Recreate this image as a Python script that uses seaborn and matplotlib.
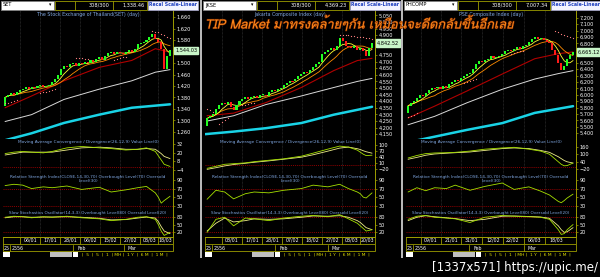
import numpy as np
import pandas as pd
import matplotlib
matplotlib.use("Agg")
import matplotlib.pyplot as plt
import seaborn as sns
from matplotlib.patches import Rectangle
from matplotlib import font_manager as fm
from matplotlib.ft2font import FT2Font
import matplotlib.patheffects as pe

sns.set_theme(style="dark")
plt.rcParams['font.family'] = ['DejaVu Sans']

# ---------------- data ----------------
symbols = ["SET", "JKSE", "PHCOMP"]
titles = ["The Stock Exchange of Thailand(SET) (day)", "Jakarta Composite Index (day)",
          "PSE Composite Index (day)"]
counters = ["308/300", "308/300", "308/300"]
top_values = ["1,338.46", "4,369.23", "7,007.34"]
last_labels = ["1,544.03", "4,842.52", "6,665.12"]
headline = "TIP Market มาทรงคล้ายๆกัน เหมือนจะดีดกลับขึ้นอีกเลย"
watermark = "[1337x571] https://upic.me/"

set_close = [1380, 1390, 1395, 1388, 1400, 1405,
             1410, 1415, 1408, 1418, 1412, 1420, 1425, 1415, 1420, 1425,
             1435, 1445, 1460, 1480,
             1490, 1485, 1495, 1500,
             1490, 1500, 1495, 1505, 1500,
             1510, 1505, 1515, 1520, 1512, 1525,
             1535, 1540, 1530, 1538, 1535,
             1530, 1540, 1545, 1538, 1550,
             1565, 1570, 1575, 1580, 1590,
             1600, 1585, 1575,
             1550, 1480, 1525, 1544.03]
jkse_close = [4270, 4290, 4300,
              4340, 4370, 4390, 4380, 4395,
              4360, 4335, 4370,
              4400, 4420, 4430, 4415,
              4430, 4440, 4425, 4445, 4450, 4440,
              4470, 4485, 4480, 4495, 4500, 4520,
              4540, 4555, 4550, 4565,
              4590, 4610, 4620, 4615, 4640,
              4660, 4680, 4700,
              4760, 4775, 4790,
              4800, 4790, 4815,
              4880, 4860, 4820,
              4810, 4800, 4815, 4790, 4800,
              4780, 4740, 4800, 4842.52]
pse_close = [5830, 5870, 5900,
             5950, 6000, 5980, 6030,
             6080, 6110, 6100,
             6120, 6090, 6130, 6110,
             6170, 6200, 6230, 6220,
             6260, 6300, 6320, 6340,
             6400, 6480, 6530, 6510, 6540,
             6560, 6600, 6570, 6590, 6610,
             6640, 6680, 6700, 6690,
             6720, 6740, 6720, 6760, 6780,
             6820, 6870, 6900, 6870, 6880,
             6850, 6830, 6800,
             6700, 6620, 6500,
             6380,
             6450, 6550, 6620, 6665.12]

ma_idx = [0, 9, 20, 32, 43, 51, 56]
set_red = [1344, 1385, 1438, 1485, 1509, 1550, 1538]
set_white = [1296, 1320, 1373, 1409, 1438, 1468, 1477]
jkse_red = [4290, 4310, 4390, 4504, 4632, 4708, 4725]
jkse_white = [4250, 4290, 4375, 4440, 4504, 4550, 4573]
pse_red = [5638, 5822, 6059, 6324, 6562, 6641, 6668]
pse_white = [5532, 5663, 5875, 6086, 6245, 6330, 6376]

cyan_idx = [-1, 9, 20, 32, 43, 56]
set_cyan = [1228, 1255, 1291, 1320, 1344, 1356]
jkse_cyan = [4150, 4170, 4196, 4235, 4298, 4358]
pse_cyan = [5250, 5346, 5452, 5558, 5717, 5822]

set_sar_idx = [0, 1, 2, 3, 4, 12, 13, 14, 15, 16, 17, 24, 25, 26, 27, 28,
               37, 38, 39, 40, 41, 50, 51, 52, 53, 54, 55, 56]
set_sar = [1360, 1362, 1365, 1368, 1372, 1395, 1398, 1400, 1403, 1406, 1410,
           1518, 1517, 1516, 1515, 1514, 1512, 1515, 1518, 1520, 1522,
           1612, 1610, 1607, 1603, 1598, 1592, 1586]
jkse_sar_idx = [0, 1, 2, 4, 5, 6, 7, 12, 13, 14, 15, 16,
                45, 46, 47, 48, 49, 50, 51, 52, 53, 54, 55, 56]
jkse_sar = [4340, 4330, 4320, 4230, 4245, 4260, 4275, 4370, 4375, 4380, 4385, 4390,
            4905, 4903, 4900, 4898, 4895, 4892, 4890, 4887, 4884, 4880, 4876, 4872]
pse_sar_idx = [0, 1, 2, 3, 19, 20, 21, 22, 23, 35, 36, 37, 38, 39,
               50, 51, 52, 53, 54, 55, 56]
pse_sar = [5650, 5670, 5690, 5710, 6180, 6200, 6215, 6230, 6245,
           6640, 6655, 6665, 6675, 6685, 6990, 6975, 6955, 6935, 6915, 6895, 6878]

set_yticks = [1260, 1300, 1340, 1380, 1420, 1460, 1500, 1580, 1620, 1660]
jkse_yticks = [4150, 4200, 4250, 4300, 4350, 4400, 4450, 4500, 4550, 4600, 4650,
               4700, 4750, 4900, 4950, 5000, 5050]
pse_yticks = [5400, 5500, 5600, 5700, 5800, 5900, 6000, 6100, 6200, 6300, 6400,
              6500, 6800, 6900, 7000, 7100, 7200]

ind_idx = [0, 3, 6, 9, 13, 16, 21, 26, 32, 36, 41, 45, 48, 51, 52, 53, 54, 56]
set_macd = [19, 21, 22, 21, 20, 22, 27, 29, 27, 26, 24, 25, 27, 22, 16, 10, 4, 1]
set_signal = [17, 19, 21, 21, 21, 21, 24, 27, 28, 27, 25, 25, 26, 25, 22, 19, 15, 12]
set_rsi = [77, 80, 78, 70, 74, 72, 76, 68, 73, 62, 67, 72, 75, 60, 50, 36, 42, 52]
set_k = [78, 82, 80, 76, 80, 78, 82, 76, 72, 65, 70, 78, 80, 70, 50, 25, 8, 20]
set_d = [76, 80, 80, 78, 79, 79, 80, 78, 74, 68, 69, 75, 79, 75, 62, 42, 25, 15]

jkse_macd = [-15, -5, 5, 8, 12, 18, 25, 32, 45, 60, 80, 95, 90, 75, 65, 55, 48, 50]
jkse_signal = [-20, -12, -3, 4, 10, 15, 22, 30, 40, 52, 70, 85, 90, 82, 78, 72, 67, 60]
jkse_rsi = [45, 66, 62, 46, 58, 62, 60, 66, 70, 78, 74, 80, 70, 62, 58, 50, 48, 60]
jkse_k = [20, 70, 78, 45, 75, 72, 65, 75, 82, 85, 80, 88, 72, 55, 45, 35, 25, 30]
jkse_d = [25, 55, 75, 60, 65, 72, 70, 72, 78, 83, 82, 84, 78, 65, 58, 48, 38, 30]

pse_macd = [70, 90, 105, 110, 112, 115, 125, 140, 150, 155, 140, 125, 100, 40, 20, 8, 10, 30]
pse_signal = [60, 75, 92, 102, 108, 112, 118, 130, 145, 150, 145, 130, 115, 80, 65, 50, 40, 30]
pse_rsi = [62, 72, 65, 72, 70, 78, 66, 75, 83, 68, 74, 64, 55, 40, 37, 42, 48, 57]
pse_k = [70, 82, 85, 78, 75, 72, 58, 78, 85, 82, 80, 78, 70, 30, 12, 15, 30, 50]
pse_d = [65, 78, 84, 80, 76, 73, 65, 70, 82, 83, 81, 79, 74, 45, 30, 20, 22, 38]

set_dates = ["06/01", "17/01", "28/01", "06/02", "15/02", "27/02", "08/03", "18/03"]
set_date_idx = [8.5, 15.3, 22.1, 28.9, 35.6, 42.4, 49.2, 54.3]
jkse_dates = ["08/01", "17/01", "28/01", "07/02", "18/02", "27/02", "08/03", "20/03"]
jkse_date_idx = [8.5, 15.3, 22.1, 28.9, 35.6, 42.4, 49.2, 54.3]
pse_dates = ["09/01", "21/01", "31/01", "12/02", "22/02", "06/03", "18/03"]
pse_date_idx = [7.8, 14.6, 21.4, 28.9, 35.6, 42.8, 50.2]
months = ["Feb", "Mar"]

macd_title = "Moving Average Convergence / Divergence(26,12,9) Value Line(0)"
rsi_title = "Relative Strength Index(CLOSE,14,30,70) Overbought Level(70) Oversold\nLevel(30)"
sto_title = "Slow Stochastics Oscillator(14,3,3) Overbought Level(80) Oversold Level(20)"

# ---------------- figure ----------------
W, H = 600, 277
fig = plt.figure(figsize=(6, 2.77), dpi=100, facecolor='black')


def add_ax(x, y, w, h):
    ax = fig.add_axes([x / W, 1 - (y + h) / H, w / W, h / H])
    ax.set_facecolor('black')
    return ax


def thai_family():
    for f in fm.fontManager.ttflist:
        try:
            ft = FT2Font(f.fname)
            if ft.get_char_index(0x0E21) and ft.get_char_index(0x0E01):
                return f.name
        except Exception:
            pass
    return 'DejaVu Sans'


OLIVE = '#9c9c00'
BLUE_T = '#7fa6e0'
XL = (-0.7, 57.0)

panels = [
    dict(close=set_close, red=set_red, white=set_white, cyan=set_cyan, sar_i=set_sar_idx,
         sar=set_sar, ylim=(1235, 1685), yt=set_yticks, macd=set_macd, sig=set_signal,
         macd_lim=(-9.6, 39.4), macd_t=[32, 20, 8, -4], rsi=set_rsi, k=set_k, d=set_d,
         dates=set_dates, didx=set_date_idx, mpos=(77, 128)),
    dict(close=jkse_close, red=jkse_red, white=jkse_white, cyan=jkse_cyan, sar_i=jkse_sar_idx,
         sar=jkse_sar, ylim=(4114, 5091), yt=jkse_yticks, macd=jkse_macd, sig=jkse_signal,
         macd_lim=(-43, 130), macd_t=[100, 70, 40, 10, -20], rsi=jkse_rsi, k=jkse_k, d=jkse_d,
         dates=jkse_dates, didx=jkse_date_idx, mpos=(77, 130)),
    dict(close=pse_close, red=pse_red, white=pse_white, cyan=pse_cyan, sar_i=pse_sar_idx,
         sar=pse_sar, ylim=(5310, 7322), yt=pse_yticks, macd=pse_macd, sig=pse_signal,
         macd_lim=(-57, 221), macd_t=[160, 100, 40, -20], rsi=pse_rsi, k=pse_k, d=pse_d,
         dates=pse_dates, didx=pse_date_idx, mpos=(70, 125)),
]
X0 = [0, 202, 403]


def style_axis(ax, yticks, labels=None):
    ax.set_xlim(*XL)
    ax.yaxis.tick_right()
    ax.set_yticks(yticks)
    if labels is not None:
        ax.set_yticklabels(labels)
    ax.set_xticks([])
    ax.tick_params(axis='y', colors=OLIVE, labelcolor='white', labelsize=3.6,
                   length=1.5, width=0.5, pad=1)
    ax.grid(False)
    for s in ['left', 'top']:
        ax.spines[s].set_visible(False)
    for s in ['right', 'bottom']:
        ax.spines[s].set_color(OLIVE)
        ax.spines[s].set_linewidth(0.7)
    ax.set_xlabel('')
    ax.set_ylabel('')


def vgrid(ax, didx):
    b = [(didx[i] + didx[i + 1]) / 2 for i in range(len(didx) - 1)]
    b = [didx[0] - (didx[1] - didx[0]) / 2] + b
    for v in b:
        ax.axvline(v, color='#3a3a3a', lw=0.5, ls=(0, (1, 1)), zorder=0)


for p, x0 in zip(panels, X0):
    c = np.asarray(p['close'], float)
    o = np.r_[c[0] - 3 * (c[1] - c[0]), c[:-1]]
    idx = np.arange(len(c))
    up = c >= o

    # ---- price ----
    ax = add_ax(x0 + 3, 10, 170, 129)
    ax.set_ylim(*p['ylim'])
    vgrid(ax, p['didx'])
    sns.lineplot(x=cyan_idx, y=p['cyan'], ax=ax, color='#19d3e6', lw=1.8)
    sns.lineplot(x=ma_idx, y=p['white'], ax=ax, color='#d9d9d9', lw=0.7)
    sns.lineplot(x=ma_idx, y=p['red'], ax=ax, color='#b00000', lw=0.8)
    s = pd.Series(c)
    sns.lineplot(x=idx, y=s.rolling(10, min_periods=1).mean(), ax=ax, color='#ff8c00', lw=0.6)
    sns.lineplot(x=idx, y=s.rolling(5, min_periods=1).mean(), ax=ax, color='#ffff33', lw=0.6)
    span = p['ylim'][1] - p['ylim'][0]
    body = np.where(np.abs(c - o) < span * 0.008, np.where(up, span * 0.008, -span * 0.008), c - o)
    ax.bar(idx, body, bottom=o, width=0.7,
           color=np.where(up, '#22ff22', '#ff1a1a'), edgecolor='none', zorder=3)
    sns.scatterplot(x=p['sar_i'], y=p['sar'], ax=ax, color='#ff8080', s=0.8,
                    linewidth=0, zorder=4)
    style_axis(ax, p['yt'], [f"{v:,}" for v in p['yt']])
    ax.text(0.5, 0.985, titles[X0.index(x0)], transform=ax.transAxes, ha='center',
            va='top', color=BLUE_T, fontsize=3.4)
    lv = c[-1]
    ax.annotate(last_labels[X0.index(x0)], xy=(1.0, lv), xycoords=('axes fraction', 'data'),
                xytext=(1.5, 0), textcoords='offset points', ha='left', va='center',
                fontsize=3.6, color='black', annotation_clip=False,
                bbox=dict(boxstyle='square,pad=0.25', fc='#c8f5c8', ec='#c8f5c8'))

    # ---- MACD ----
    axm = add_ax(x0 + 3, 139, 170, 35)
    axm.set_ylim(*p['macd_lim'])
    vgrid(axm, p['didx'])
    axm.axhline(0, color='#c00000', lw=0.5, ls=(0, (1.5, 1.5)))
    sns.lineplot(x=ind_idx, y=p['sig'], ax=axm, color='#eeee88', lw=0.6)
    sns.lineplot(x=ind_idx, y=p['macd'], ax=axm, color='#a6e000', lw=0.6)
    style_axis(axm, p['macd_t'])
    axm.text(0.5, 0.97, macd_title, transform=axm.transAxes, ha='center', va='top',
             color=BLUE_T, fontsize=3.1)

    # ---- RSI ----
    axr = add_ax(x0 + 3, 174, 170, 36)
    axr.set_ylim(20, 104)
    vgrid(axr, p['didx'])
    for lvl in (70, 30):
        axr.axhline(lvl, color='#c00000', lw=0.5, ls=(0, (1.5, 1.5)))
    sns.lineplot(x=ind_idx, y=p['rsi'], ax=axr, color='#a6e000', lw=0.6)
    style_axis(axr, [90, 70, 50, 30])
    axr.text(0.5, 0.97, rsi_title, transform=axr.transAxes, ha='center', va='top',
             color=BLUE_T, fontsize=3.1, linespacing=1.0)

    # ---- Stochastic ----
    axs = add_ax(x0 + 3, 210, 170, 27)
    axs.set_ylim(2, 106)
    vgrid(axs, p['didx'])
    for lvl in (80, 20):
        axs.axhline(lvl, color='#c00000', lw=0.5, ls=(0, (1.5, 1.5)))
    sns.lineplot(x=ind_idx, y=p['d'], ax=axs, color='#eeee88', lw=0.6)
    sns.lineplot(x=ind_idx, y=p['k'], ax=axs, color='#a6e000', lw=0.6)
    style_axis(axs, [80, 50, 20])
    axs.text(0.5, 0.97, sto_title, transform=axs.transAxes, ha='center', va='top',
             color=BLUE_T, fontsize=3.0)

    # ---- date rows ----
    axd = add_ax(x0 + 3, 237, 170, 14)
    axd.set_xlim(*XL)
    axd.set_ylim(0, 2)
    axd.axis('off')
    axd.axhline(1, color=OLIVE, lw=0.6)
    axd.axhline(0.02, color=OLIVE, lw=0.6)
    axd.axhline(1.98, color=OLIVE, lw=0.6)
    di = p['didx']
    bnds = [di[0] - (di[1] - di[0]) / 2] + [(di[i] + di[i + 1]) / 2 for i in range(len(di) - 1)] + [XL[1]]
    for bb in bnds:
        axd.plot([bb, bb], [1, 2], color=OLIVE, lw=0.6)
    for v, t in zip(di, p['dates']):
        axd.text(v, 1.5, t, ha='center', va='center', color='white', fontsize=3.4)

# ---------------- overlay ----------------
ov = fig.add_axes([0, 0, 1, 1])
ov.set_xlim(0, W)
ov.set_ylim(H, 0)
ov.axis('off')
ov.patch.set_alpha(0)


def rect(x, y, w, h, fc, ec='none', lw=0.6, z=5):
    ov.add_patch(Rectangle((x, y), w, h, facecolor=fc, edgecolor=ec, lw=lw, zorder=z))


for i, (p, x0) in enumerate(zip(panels, X0)):
    rect(x0 + 1, 0.5, 53, 9, 'white', '#808080')
    ov.text(x0 + 3, 5, symbols[i], color='black', fontsize=3.6, va='center', zorder=6)
    ov.text(x0 + 50, 5, '▾', color='black', fontsize=3.4, va='center', ha='center', zorder=6)
    rect(x0 + 55, 0.5, 92, 9, 'none', OLIVE)
    ov.plot([x0 + 75, x0 + 75], [0.5, 9.5], color=OLIVE, lw=0.6)
    ov.plot([x0 + 113, x0 + 113], [0.5, 9.5], color=OLIVE, lw=0.6)
    ov.text(x0 + 110, 5, counters[i], color='white', fontsize=3.6, va='center', ha='right')
    ov.text(x0 + 145, 5, top_values[i], color='white', fontsize=3.6, va='center', ha='right')
    rect(x0 + 148, 0.5, 50, 9, '#f4f4ff', '#a0a0c0')
    ov.text(x0 + 173, 5, 'Recal Scale-Linear', color='#2040c0', fontsize=3.3,
            fontweight='bold', va='center', ha='center', zorder=6)
    ov.text(x0 + 4, 248, '25', color='white', fontsize=3.4, va='center')
    ov.text(x0 + 12, 248, '2556', color='white', fontsize=3.4, va='center')
    ov.plot([x0 + 10, x0 + 10], [245, 251], color=OLIVE, lw=0.6)
    ov.plot([x0 + p['mpos'][0] - 4] * 2, [245, 251], color=OLIVE, lw=0.6)
    ov.plot([x0 + p['mpos'][1] - 4] * 2, [245, 251], color=OLIVE, lw=0.6)
    ov.text(x0 + p['mpos'][0], 248, months[0], color='white', fontsize=3.4, va='center')
    ov.text(x0 + p['mpos'][1], 248, months[1], color='white', fontsize=3.4, va='center')
    rect(x0 + 3, 237, 170, 14, 'none', OLIVE)
    rect(x0 + 3, 252, 7, 5, 'white')
    rect(x0 + 50, 252, 22, 5, '#c0c0c0')
    rect(x0 + 73, 252, 5, 5, 'white')
    ov.text(x0 + 82, 254.5, '|  5  |  5  |  1  | MH |  1 Y  |  6 M  |  1 M  |', color='#e0e000',
            fontsize=3.2, va='center')

for xs in (200, 401):
    rect(xs - 0.5, 0, 2.2, 258, '#b8b8b8', z=7)

tf = thai_family()
ov.text(205, 23.5, headline, color='#ff8a1a', fontsize=9.2, fontstyle='italic',
        va='center', ha='left', family=[tf, 'DejaVu Sans'], zorder=9,
        path_effects=[pe.withStroke(linewidth=0.8, foreground='#6a2000')])
ov.text(598, 268, watermark, color='white', fontsize=8.5, ha='right', va='center', zorder=9)

fig.savefig('out.png', dpi=100, facecolor='black')
